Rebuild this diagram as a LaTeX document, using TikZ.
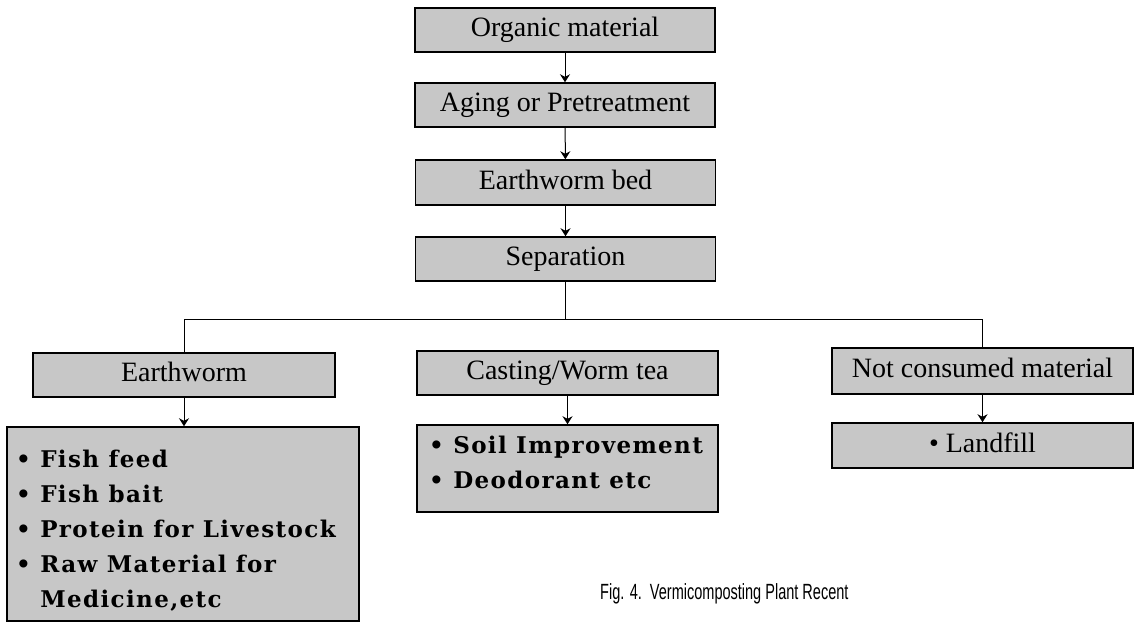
\documentclass[tikz,border=0pt]{standalone}
\usepackage{fontspec}
\setmainfont{Liberation Serif}
\newfontfamily\listfont[LetterSpace=6]{DejaVu Serif Bold}
\newfontfamily\capfont[FakeStretch=0.66]{Liberation Sans}
\usetikzlibrary{arrows.meta}
\tikzset{
  stagebox/.style={draw=black, line width=1.5pt, fill=black!22, inner sep=0pt,
    minimum width=300pt, minimum height=44pt, text height=19pt, text depth=6pt,
    font=\fontsize{28}{30}\selectfont},
  listbox/.style={draw=black, line width=1.5pt, fill=black!22, inner sep=0pt},
  listtext/.style={inner sep=0pt, anchor=base west,
    font=\listfont\fontsize{23}{35}\selectfont},
  flow/.style={line width=1pt, -{Stealth[length=8pt,width=10pt]}},
  link/.style={line width=1pt}
}
\newcommand\itm{\textbullet\ }
\begin{document}
\begin{tikzpicture}[x=1pt,y=-1pt]
\useasboundingbox[fill=white] (0,0) rectangle (1137,623);
% main chain
\node[stagebox] (org) at (565,30) {Organic material};
\node[stagebox] (aging) at (565,105) {Aging or Pretreatment};
\node[stagebox, minimum height=45pt] (bed) at (565.5,182.5) {Earthworm bed};
\node[stagebox] (sep) at (565.5,259) {Separation};
% branches
\node[stagebox, minimum width=302pt] (ew) at (184,375) {Earthworm};
\node[stagebox, minimum width=301pt] (cast) at (567.5,373) {Casting/Worm tea};
\node[stagebox, minimum width=301pt, minimum height=46pt] (ncm) at (982.5,371) {Not consumed material};
% results
\node[listbox, minimum width=352pt, minimum height=194pt] (uses1) at (183,524) {};
\node[listbox, minimum width=301pt, minimum height=87pt] (uses2) at (567.5,468.5) {};
\node[stagebox, minimum width=301pt, minimum height=45pt] (landfill) at (982.5,445.5) {\textbullet\ Landfill};
% list texts
\node[listtext] (t1) at (16,467) {\begin{tabular}[t]{@{}l@{}}
\itm Fish feed\\
\itm Fish bait\\
\itm Protein for Livestock\\
\itm Raw Material for\\
\phantom{\itm}Medicine,etc
\end{tabular}};
\node[listtext] (t2) at (429,453) {\begin{tabular}[t]{@{}l@{}}
\itm Soil Improvement\\
\itm Deodorant etc
\end{tabular}};
% caption
\node[inner sep=0pt, anchor=base west, font=\capfont\fontsize{22}{24}\selectfont] (cap) at (600,599) {Fig. 4.\ \ Vermicomposting Plant Recent};
% connectors
\draw[flow] (org) -- (aging);
\draw[flow] (aging) -- (bed);
\draw[flow] (bed) -- (sep);
\draw[link] (sep.south) -- ++(0,38) coordinate (split);
\draw[link] (split) -| (ew.north);
\draw[link] (split) -| (ncm.north);
\draw[flow] (ew.south) -- (ew.south |- uses1.north);
\draw[flow] (cast.south) -- (cast.south |- uses2.north);
\draw[flow] (ncm.south) -- (ncm.south |- landfill.north);
\end{tikzpicture}
\end{document}
